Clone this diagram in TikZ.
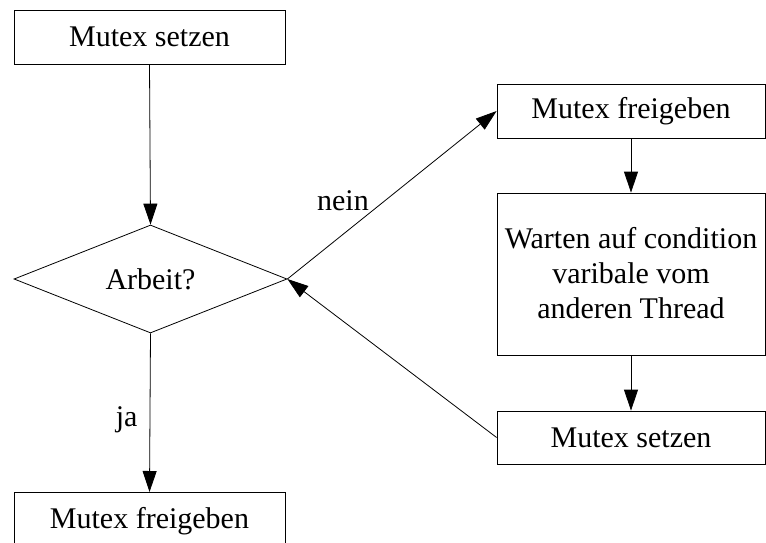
\documentclass[tikz,border=0pt]{standalone}
\usepackage{fontspec}
\setmainfont{Liberation Serif}
\usetikzlibrary{arrows.meta,shapes.geometric}
\begin{document}
\begin{tikzpicture}[x=1pt,y=-1pt,
  box/.style={draw,line width=0.8pt,rectangle,inner sep=0pt,minimum width=271pt,align=center},
  dia/.style={draw,line width=0.8pt,diamond,inner sep=0pt,minimum width=273pt,minimum height=108pt,aspect=2.53},
  conn/.style={line width=0.8pt,-{Triangle[length=21pt,width=14pt]}},
  lbl/.style={inner sep=0pt},
  every node/.append style={font=\fontsize{30}{35}\selectfont}]
\useasboundingbox (0,0) rectangle (766,542);
\clip (0,0) rectangle (766,542);
\node[box,minimum height=54pt] (s1) at (149.5,37) {Mutex setzen};
\node[dia] (a) at (150.5,279) {Arbeit?};
\node[box,minimum height=58pt,anchor=north] (f1) at (149.5,492) {Mutex freigeben};
\node[box,minimum width=268pt,minimum height=162pt] (w) at (631,274) {\raisebox{-9pt}[0pt][0pt]{\begin{tabular}{@{}c@{}}Warten auf condition\\varibale vom\\anderen Thread\end{tabular}}};
\node[box,minimum width=268pt,minimum height=54pt] (f2) at (631,111) {Mutex freigeben};
\node[box,minimum width=268pt,minimum height=53pt] (s2) at (631,437.5) {Mutex setzen};
\draw[conn] (s1.south) -- (a.north);
\draw[conn] (a.south) -- node[lbl,pos=0.59,anchor=base east,xshift=-12pt] (ja) {ja} (f1.north);
\draw[conn] (a.east) -- node[lbl,pos=0.41,anchor=base east,xshift=-4pt] (nein) {nein} (f2.west);
\draw[conn] (f2.south) -- (w.north);
\draw[conn] (w.south) -- (s2.north);
\draw[conn] (s2.west) -- (a.east);
\end{tikzpicture}
\end{document}
